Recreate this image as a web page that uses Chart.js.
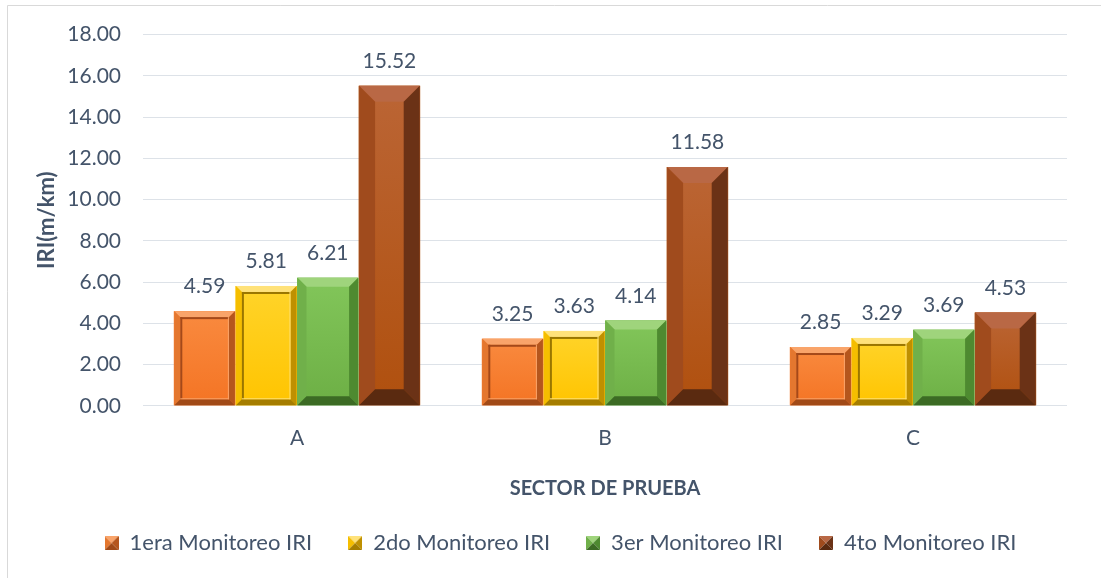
<!DOCTYPE html>
<html lang="es">
<head>
<meta charset="UTF-8" />
<title>IRI por sector</title>
<script src="https://cdn.jsdelivr.net/npm/chart.js@4.4.1/dist/chart.umd.min.js"></script>
<style>
  html, body { margin: 0; padding: 0; background: #fff; }
  #wrap { width: 1101px; height: 578px; }
</style>
</head>
<body>
<div id="wrap"><canvas id="iriChart" width="1101" height="578"></canvas></div>
<script>
const sectores = ['A', 'B', 'C'];
const monitoreo1 = [4.59, 3.25, 2.85];
const monitoreo2 = [5.81, 3.63, 3.29];
const monitoreo3 = [6.21, 4.14, 3.69];
const monitoreo4 = [15.52, 11.58, 4.53];
const serieNombres = ['1era Monitoreo IRI', '2do Monitoreo IRI', '3er Monitoreo IRI', '4to Monitoreo IRI'];
const yTicks = [0, 2, 4, 6, 8, 10, 12, 14, 16, 18];

const textColor = '#44546A';
const fuente = 'Lato, "Open Sans", sans-serif';

// colores del efecto bisel de cada serie
const biseles = [
    { face: ['#F98A3F', '#F47424'], top: '#F9A46A', left: '#E4772F', right: '#B5561D', bottom: '#A14A17', inner: '#A4491A', size: 6 },
    { face: ['#FFD42A', '#FFC400'], top: '#FFE27A', left: '#F5BE00', right: '#BF9000', bottom: '#A57D00', inner: '#9A7600', size: 6 },
    { face: ['#82C65A', '#6DAF45'], top: '#9FD47C', left: '#70B04A', right: '#4E8A30', bottom: '#3C6B24', inner: null, size: 9 },
    { face: ['#BB6535', '#B0500E'], top: '#B96845', left: '#A04B1D', right: '#6B3216', bottom: '#5A2A10', inner: null, size: 16 }
];

function trapecio(ctx, pts, color) {
    ctx.beginPath();
    ctx.moveTo(pts[0][0], pts[0][1]);
    for (let i = 1; i < pts.length; i++) ctx.lineTo(pts[i][0], pts[i][1]);
    ctx.closePath();
    ctx.fillStyle = color;
    ctx.fill();
}

function dibujarBisel(ctx, l, t, r, b, c) {
    let s = Math.min(c.size, (r - l) / 2 - 2, (b - t) / 2 - 1);
    if (s < 1) s = 1;
    const g = ctx.createLinearGradient(0, t, 0, b);
    g.addColorStop(0, c.face[0]);
    g.addColorStop(1, c.face[1]);
    ctx.fillStyle = g;
    ctx.fillRect(l, t, r - l, b - t);
    trapecio(ctx, [[l, t], [r, t], [r - s, t + s], [l + s, t + s]], c.top);
    trapecio(ctx, [[l, t], [l + s, t + s], [l + s, b - s], [l, b]], c.left);
    trapecio(ctx, [[r, t], [r, b], [r - s, b - s], [r - s, t + s]], c.right);
    trapecio(ctx, [[l, b], [l + s, b - s], [r - s, b - s], [r, b]], c.bottom);
    if (c.inner) {
        // marco interior hundido
        ctx.fillStyle = c.inner;
        ctx.fillRect(l + s, t + s, r - l - 2 * s, 2);
        ctx.fillRect(l + s, t + s, 2, b - t - 2 * s);
        ctx.fillStyle = c.top;
        ctx.fillRect(l + s, b - s - 1, r - l - 2 * s, 1);
        ctx.fillRect(r - s - 1, t + s, 1, b - t - 2 * s);
    }
}

function iconoLeyenda(c) {
    const cv = document.createElement('canvas');
    cv.width = 14; cv.height = 14;
    const ctx = cv.getContext('2d');
    trapecio(ctx, [[0, 0], [14, 0], [7, 7]], c.top);
    trapecio(ctx, [[0, 0], [7, 7], [0, 14]], c.left);
    trapecio(ctx, [[14, 0], [14, 14], [7, 7]], c.right);
    trapecio(ctx, [[0, 14], [7, 7], [14, 14]], c.bottom);
    return cv;
}

const marcoPlugin = {
    id: 'marco',
    beforeDraw(chart) {
        const ctx = chart.ctx;
        ctx.save();
        ctx.fillStyle = '#fff';
        ctx.fillRect(0, 0, chart.width, chart.height);
        ctx.strokeStyle = '#D9D9D9';
        ctx.lineWidth = 1;
        ctx.beginPath();
        ctx.moveTo(7.5, chart.height);
        ctx.lineTo(7.5, 5.5);
        ctx.lineTo(chart.width, 5.5);
        ctx.stroke();
        ctx.restore();
    },
    afterUpdate(chart) {
        // la leyenda del original queda algo más a la derecha
        chart.legend.left += 23;
        chart.legend.right += 23;
    }
};

const biselPlugin = {
    id: 'bisel',
    afterDatasetsDraw(chart) {
        const ctx = chart.ctx;
        ctx.save();
        chart.data.datasets.forEach((ds, i) => {
            const meta = chart.getDatasetMeta(i);
            meta.data.forEach((bar, j) => {
                const p = bar.getProps(['x', 'y', 'base', 'width'], true);
                const l = p.x - p.width / 2 + 0.5;
                const r = p.x + p.width / 2 - 0.5;
                dibujarBisel(ctx, l, p.y, r, p.base, biseles[i]);
                ctx.fillStyle = textColor;
                ctx.font = '21px ' + fuente;
                ctx.textAlign = 'center';
                ctx.textBaseline = 'bottom';
                ctx.fillText(ds.data[j].toFixed(2), p.x, p.y - 14);
            });
        });
        ctx.restore();
    }
};

const series = [monitoreo1, monitoreo2, monitoreo3, monitoreo4];

new Chart(document.getElementById('iriChart').getContext('2d'), {
    type: 'bar',
    data: {
        labels: sectores,
        datasets: series.map((vals, i) => ({
            label: serieNombres[i],
            data: vals,
            backgroundColor: biseles[i].face[1],
            borderWidth: 0,
            pointStyle: iconoLeyenda(biseles[i]),
            barPercentage: 1.0,
            categoryPercentage: 0.8
        }))
    },
    options: {
        responsive: false,
        animation: false,
        layout: { padding: { left: 8, right: 34, top: 22, bottom: 14 } },
        plugins: {
            legend: {
                position: 'bottom',
                labels: {
                    usePointStyle: true,
                    boxWidth: 14,
                    boxHeight: 14,
                    padding: 36,
                    color: textColor,
                    font: { family: fuente, size: 22 }
                }
            },
            tooltip: { enabled: false }
        },
        scales: {
            x: {
                grid: { display: false },
                border: { display: false },
                ticks: { color: textColor, font: { family: fuente, size: 21 }, padding: 12 },
                title: {
                    display: true,
                    text: 'SECTOR DE PRUEBA',
                    color: textColor,
                    font: { family: fuente, size: 20, weight: 'bold' },
                    padding: { top: 14, bottom: -5 }
                }
            },
            y: {
                min: 0,
                max: 18,
                afterBuildTicks(scale) { scale.ticks = yTicks.map(v => ({ value: v })); },
                afterFit(scale) { scale.width = 135; },
                grid: { color: '#DDE2E8', lineWidth: 1, drawTicks: false },
                border: { display: false },
                ticks: {
                    color: textColor,
                    font: { family: fuente, size: 21 },
                    padding: 22,
                    callback: v => Number(v).toFixed(2)
                },
                title: {
                    display: true,
                    text: 'IRI(m/km)',
                    color: textColor,
                    font: { family: fuente, size: 22, weight: 'bold' },
                    padding: { top: 26, bottom: 0 }
                }
            }
        }
    },
    plugins: [marcoPlugin, biselPlugin]
});
</script>
</body>
</html>
